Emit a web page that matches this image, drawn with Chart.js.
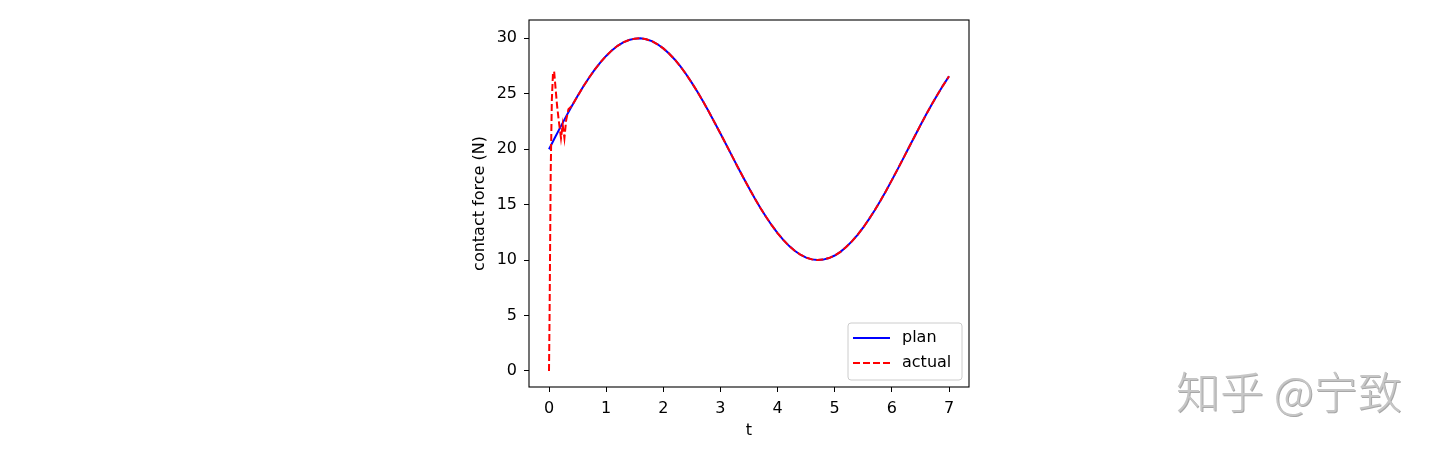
<!DOCTYPE html>
<html>
<head>
<meta charset="utf-8">
<script src="https://cdn.jsdelivr.net/npm/chart.js@4.4.1/dist/chart.umd.min.js"></script>
<style>
  html, body { margin: 0; padding: 0; background: #fff; }
  #wrap { position: relative; width: 1440px; height: 451px; }
  #c { position: absolute; left: 0; top: 0; }
  #wm { position: absolute; left: 1176px; top: 358px; font-family: "Noto Sans CJK SC", sans-serif;
        font-size: 44px; font-weight: 300; color: #c6c6c6; white-space: nowrap; text-shadow: 1px 1px 0 #a8a8a8; }
</style>
</head>
<body>
<div id="wrap">
  <canvas id="c" width="1440" height="451"></canvas>
  <div id="wm">知乎 @宁致</div>
</div>
<script>
// plan series sampled every 0.1 in t
const planT = [0.0,0.1,0.2,0.3,0.4,0.5,0.6,0.7,0.8,0.9,1.0,1.1,1.2,1.3,1.4,1.5,1.6,1.7,1.8,1.9,
  2.0,2.1,2.2,2.3,2.4,2.5,2.6,2.7,2.8,2.9,3.0,3.1,3.2,3.3,3.4,3.5,3.6,3.7,3.8,3.9,
  4.0,4.1,4.2,4.3,4.4,4.5,4.6,4.7,4.8,4.9,5.0,5.1,5.2,5.3,5.4,5.5,5.6,5.7,5.8,5.9,
  6.0,6.1,6.2,6.3,6.4,6.5,6.6,6.7,6.8,6.9,7.0];
const planF = [20.00,21.00,21.99,22.96,23.89,24.79,25.65,26.44,27.17,27.83,28.41,28.91,29.32,29.64,29.85,29.97,30.00,29.92,29.74,29.46,
  29.09,28.63,28.09,27.46,26.76,25.98,25.16,24.27,23.35,22.39,21.41,20.42,19.42,18.42,17.44,16.49,15.57,14.70,13.88,13.12,
  12.43,11.82,11.28,10.84,10.48,10.22,10.06,10.00,10.04,10.18,10.41,10.74,11.17,11.68,12.27,12.94,13.69,14.49,15.35,16.26,
  17.21,18.18,19.17,20.17,21.17,22.15,23.12,24.05,24.94,25.78,26.57];
// actual: start-up transient, then tracking
const actualT = [0.0,0.01,0.03,0.05,0.07,0.09,0.11,0.14,0.17,0.21,0.24,0.27,0.30,0.34,0.4,0.5,0.6,0.7,0.8,0.9,1.0,1.1,1.2,1.3,1.4,1.5,1.6,1.7,1.8,1.9,
  2.0,2.1,2.2,2.3,2.4,2.5,2.6,2.7,2.8,2.9,3.0,3.1,3.2,3.3,3.4,3.5,3.6,3.7,3.8,3.9,
  4.0,4.1,4.2,4.3,4.4,4.5,4.6,4.7,4.8,4.9,5.0,5.1,5.2,5.3,5.4,5.5,5.6,5.7,5.8,5.9,
  6.0,6.1,6.2,6.3,6.4,6.5,6.6,6.7,6.8,6.9,7.0];
const actualF = [0.0,5.0,18.0,24.5,26.9,27.0,25.8,24.0,22.6,21.0,22.2,21.0,22.6,23.6,23.89,24.79,25.65,26.44,27.17,27.83,28.41,28.91,29.32,29.64,29.85,29.97,30.00,29.92,29.74,29.46,
  29.09,28.63,28.09,27.46,26.76,25.98,25.16,24.27,23.35,22.39,21.41,20.42,19.42,18.42,17.44,16.49,15.57,14.70,13.88,13.12,
  12.43,11.82,11.28,10.84,10.48,10.22,10.06,10.00,10.04,10.18,10.41,10.74,11.17,11.68,12.27,12.94,13.69,14.49,15.35,16.26,
  17.21,18.18,19.17,20.17,21.17,22.15,23.12,24.05,24.94,25.78,26.57];
const xTicks = [0,1,2,3,4,5,6,7];
const yTicks = [0,5,10,15,20,25,30];
const seriesNames = ['plan','actual'];
const xTitle = 't';
const yTitle = 'contact force (N)';

const FONT = "'DejaVu Sans', sans-serif";
const FS = 16;

const framePlugin = {
  id: 'frame',
  afterDatasetsDraw(chart) {
    const {ctx, chartArea: a} = chart;
    ctx.save();
    ctx.strokeStyle = '#000';
    ctx.lineWidth = 1.1;
    ctx.strokeRect(a.left, a.top, a.right - a.left, a.bottom - a.top);
    ctx.restore();
  }
};

const legendPlugin = {
  id: 'mplLegend',
  afterDraw(chart) {
    const {ctx, chartArea: a} = chart;
    const w = 114, h = 57;
    const x = a.right - 7 - w, y = a.bottom - 7 - h;
    ctx.save();
    ctx.beginPath();
    const r = 3;
    ctx.moveTo(x + r, y);
    ctx.arcTo(x + w, y, x + w, y + h, r);
    ctx.arcTo(x + w, y + h, x, y + h, r);
    ctx.arcTo(x, y + h, x, y, r);
    ctx.arcTo(x, y, x + w, y, r);
    ctx.closePath();
    ctx.fillStyle = 'rgba(255,255,255,0.8)';
    ctx.fill();
    ctx.strokeStyle = '#cccccc';
    ctx.lineWidth = 1;
    ctx.stroke();
    chart.data.datasets.forEach((ds, i) => {
      const cy = y + 15 + i * 25;
      ctx.beginPath();
      ctx.setLineDash(ds.borderDash || []);
      ctx.strokeStyle = ds.borderColor;
      ctx.lineWidth = ds.borderWidth;
      ctx.moveTo(x + 5, cy);
      ctx.lineTo(x + 42, cy);
      ctx.stroke();
      ctx.setLineDash([]);
      ctx.fillStyle = '#000';
      ctx.font = FS + 'px ' + FONT;
      ctx.textBaseline = 'middle';
      ctx.textAlign = 'left';
      ctx.fillText(ds.label, x + 54, cy);
    });
    ctx.restore();
  }
};

new Chart(document.getElementById('c'), {
  type: 'line',
  data: {
    datasets: [
      { label: seriesNames[0], order: 2, data: planT.map((t, i) => ({x: t, y: planF[i]})),
        borderColor: '#0000ff', borderWidth: 2, pointRadius: 0, tension: 0, fill: false },
      { label: seriesNames[1], order: 1, data: actualT.map((t, i) => ({x: t, y: actualF[i]})),
        borderColor: '#ff0000', borderWidth: 2, borderDash: [7, 3], pointRadius: 0, tension: 0, fill: false }
    ]
  },
  options: {
    responsive: false,
    animation: false,
    layout: { padding: { left: 466, right: 471, top: 20, bottom: 7 } },
    plugins: { legend: { display: false }, tooltip: { enabled: false } },
    scales: {
      x: {
        type: 'linear', min: -0.35, max: 7.35,
        afterBuildTicks: s => { s.ticks = xTicks.map(v => ({value: v})); },
        afterFit: s => { s.height = 57; },
        grid: { drawOnChartArea: false, drawTicks: true, tickLength: 5, color: '#000', lineWidth: 1 },
        border: { display: false },
        ticks: { color: '#000', font: { family: FONT, size: FS }, padding: 7, maxRotation: 0 },
        title: { display: true, text: xTitle, color: '#000', font: { family: FONT, size: FS } }
      },
      y: {
        type: 'linear', min: -1.45, max: 31.65,
        afterBuildTicks: s => { s.ticks = yTicks.map(v => ({value: v})); },
        afterFit: s => { s.width = 63; },
        grid: { drawOnChartArea: false, drawTicks: true, tickLength: 5, color: '#000', lineWidth: 1 },
        border: { display: false },
        ticks: { color: '#000', font: { family: FONT, size: FS }, padding: 7 },
        title: { display: true, text: yTitle, color: '#000', font: { family: FONT, size: FS } }
      }
    }
  },
  plugins: [framePlugin, legendPlugin]
});
</script>
</body>
</html>
